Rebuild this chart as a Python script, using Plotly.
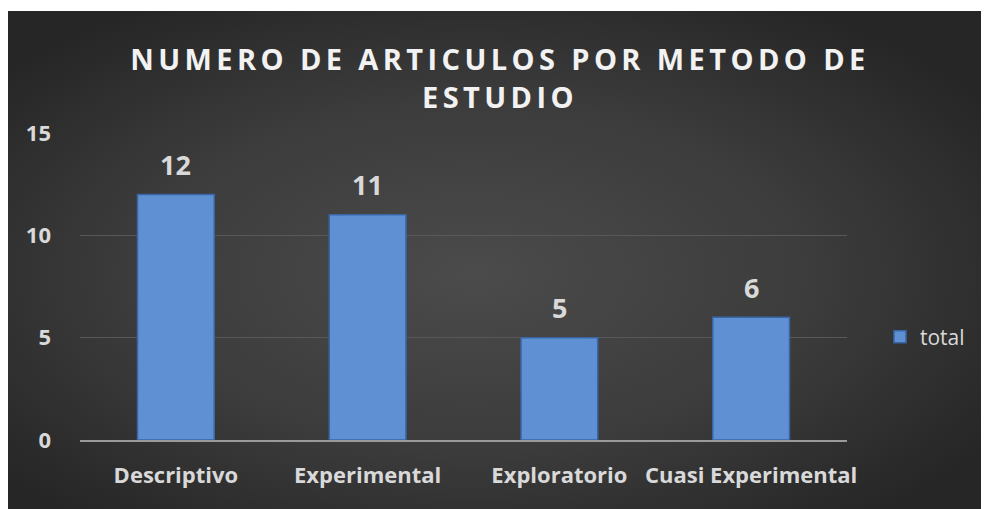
import base64
import plotly.graph_objects as go

metodos = ["Descriptivo", "Experimental", "Exploratorio", "Cuasi Experimental"]
total = [12, 11, 5, 6]
y_ticks = [0, 5, 10, 15]
titulo = "NUMERO DE ARTICULOS POR METODO DE<br>ESTUDIO"

W, H = 989, 509
ml, mr, mt, mb = 72, 150, 125, 77
pw, ph = W - ml - mr, H - mt - mb

# Fondo degradado (radial) en SVG
svg = (
    '<svg xmlns="http://www.w3.org/2000/svg" width="989" height="506" viewBox="0 0 989 506">'
    '<defs><radialGradient id="g" cx="47%" cy="52%" r="62%">'
    '<stop offset="0" stop-color="#4b4b4b"/><stop offset="0.55" stop-color="#3c3c3c"/>'
    '<stop offset="1" stop-color="#262626"/></radialGradient></defs>'
    '<rect width="989" height="506" fill="url(#g)"/></svg>'
)
bg_src = "data:image/svg+xml;base64," + base64.b64encode(svg.encode()).decode()

fig = go.Figure()

fig.add_trace(go.Bar(
    name="total",
    x=metodos,
    y=total,
    marker=dict(color="#5f90d4", line=dict(color="#3a66a6", width=1.5)),
    hoverinfo="skip"
))

# Etiquetas de datos
for m, v in zip(metodos, total):
    fig.add_annotation(
        x=m, y=v, text=f"<b>{v}</b>", showarrow=False,
        yanchor="middle", yshift=30,
        font=dict(family="Open Sans", size=27, color="#d9d9d9")
    )

# Habillage
fig.update_layout(
    width=W, height=H,
    margin=dict(l=ml, r=mr, t=mt, b=mb, pad=0),
    paper_bgcolor="white",
    plot_bgcolor="rgba(0,0,0,0)",
    bargap=0.6,
    showlegend=True,
    legend=dict(x=1.043, y=(H - mb - 329) / ph, xanchor="left", yanchor="middle",
                font=dict(family="Open Sans", size=21, color="#d9d9d9"),
                bgcolor="rgba(0,0,0,0)"),
    title=dict(
        text=f'<span style="letter-spacing:4.4px"><b>{titulo}</b></span>',
        x=492 / W, xref="container", xanchor="center",
        y=1 - 62 / H, yanchor="middle",
        font=dict(family="Open Sans", size=29, color="#f2f2f2")
    ),
    images=[dict(
        source=bg_src, xref="paper", yref="paper",
        x=-ml / pw, y=(H - mb - 3) / ph,
        sizex=W / pw, sizey=(H - 3) / ph,
        xanchor="left", yanchor="top", sizing="stretch", layer="below"
    )],
    xaxis=dict(
        showgrid=False, showline=True, linecolor="#9a9a9a", linewidth=2,
        ticks="", ticklabelstandoff=15,
        tickfont=dict(family="Open Sans", size=22, color="#d9d9d9", weight="bold")
    ),
    yaxis=dict(
        range=[0, 15], tickvals=y_ticks, showgrid=True, gridcolor="#585858", gridwidth=1,
        zeroline=False, showline=False, ticks="", ticklabelstandoff=28,
        tickfont=dict(family="Open Sans", size=22, color="#d9d9d9", weight="bold")
    ),
)

fig.write_html("out.html")
